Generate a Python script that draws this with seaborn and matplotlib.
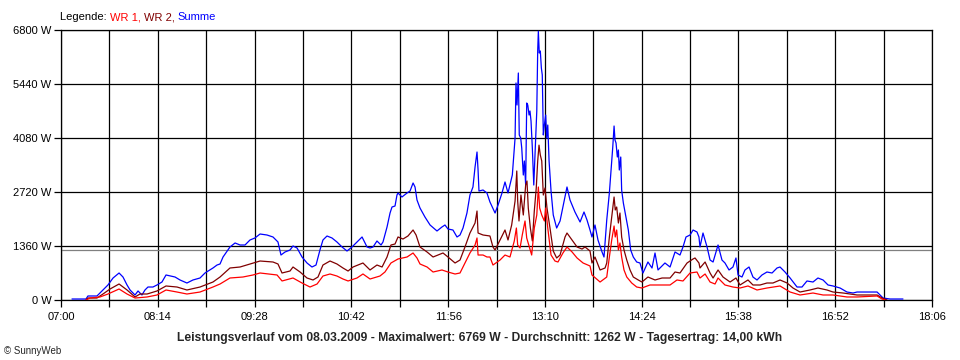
import matplotlib
matplotlib.use("Agg")
import matplotlib.pyplot as plt
import pandas as pd
import seaborn as sns
from matplotlib.ticker import FixedLocator, NullFormatter

# ---- data: time in minutes after 07:00, power in W ----
summe_t = [8.4, 19.1, 20.6, 27.5, 32.1, 35.9, 39.8, 44.4, 47.4, 50.5, 52.8, 56.6, 58.9, 61.9, 64.2, 66.5, 70.3, 73.4, 77.2, 80.3,
           87.2, 91.0, 96.3, 100.9, 106.3, 110.1, 116.2, 119.3, 121.6, 123.9, 129.2, 133.1, 136.9, 140.7, 144.5, 148.3, 152.2, 157.5, 162.1, 165.9,
           168.2, 171.3, 175.1, 177.4, 180.5, 184.3, 188.1, 191.9, 195.0, 198.0, 200.3, 203.4, 207.2, 211.0, 214.9, 218.7, 222.5, 226.3, 230.2, 234.0,
           236.3, 238.6, 241.6, 244.7, 246.2, 249.3, 251.6, 253.1, 255.4, 256.9, 257.7, 260.7, 264.6, 266.9, 269.2, 270.7, 272.2, 274.5, 278.3, 282.2,
           287.5, 291.3, 293.6, 295.9, 299.7, 302.8, 305.1, 307.4, 310.4, 312.7, 315.0, 316.6, 318.1, 318.9, 319.6, 322.7, 325.7, 328.0, 331.9, 334.2,
           337.2, 339.5, 341.8, 345.1, 347.2, 347.9, 348.7, 349.7, 350.4, 351.5, 352.3, 353.5, 354.3, 355.3, 356.1, 356.9, 357.9, 358.6, 359.4, 360.4,
           361.5, 362.4, 363.8, 364.5, 365.0, 365.7, 366.5, 367.3, 368.0, 368.8, 369.6, 370.6, 371.4, 372.2, 373.2, 374.7, 376.4, 379.0, 381.6, 385.4,
           386.9, 389.2, 393.0, 396.9, 399.9, 402.2, 404.5, 406.0, 408.3, 410.6, 413.7, 415.2, 417.3, 419.3, 420.6, 421.9, 422.9, 423.6, 424.4, 425.4,
           426.2, 426.9, 428.0, 428.7, 430.0, 432.0, 433.8, 435.6, 437.6, 440.2, 442.7, 445.0, 448.8, 451.9, 454.2, 456.5, 461.8, 465.7, 469.5, 473.3,
           475.6, 477.9, 481.0, 483.3, 486.3, 487.8, 488.6, 490.9, 494.0, 496.3, 498.6, 502.4, 505.4, 507.7, 510.8, 513.8, 516.1, 517.7, 520.7, 523.0,
           526.1, 529.1, 532.2, 536.0, 539.8, 543.7, 547.5, 549.8, 553.6, 557.5, 562.8, 566.6, 570.4, 575.0, 578.8, 582.7, 586.5, 590.3, 595.7, 601.0,
           605.6, 608.7, 624.0, 626.3, 628.6, 633.9, 643.8]
summe_w = [25, 25, 101, 101, 252, 378, 554, 680, 579, 378, 252, 126, 227, 126, 252, 327, 327, 378, 453, 630,
           579, 504, 428, 504, 554, 680, 806, 881, 907, 1083, 1335, 1436, 1385, 1385, 1511, 1562, 1662, 1637, 1587, 1461,
           1133, 1209, 1259, 1360, 1310, 1083, 932, 831, 881, 1259, 1511, 1612, 1562, 1461, 1335, 1234, 1335, 1461, 1587, 1335,
           1310, 1335, 1486, 1385, 1461, 1839, 2191, 2342, 2367, 2644, 2695, 2594, 2695, 2745, 2947, 2846, 2519, 2317, 2090, 1889,
           1738, 1839, 1889, 1788, 1763, 1587, 1637, 1813, 2191, 2644, 2846, 3350, 3727, 3274, 2745, 2770, 2695, 2468, 2191, 2393,
           2695, 2972, 2695, 3148, 4080, 5465, 4911, 5717, 4156, 4080, 3828, 3148, 3501, 2896, 4961, 4911, 4659, 4760, 4508, 3828,
           2896, 3652, 4760, 6271, 6769, 6221, 6271, 5843, 5667, 4156, 4407, 4659, 4080, 4407, 3501, 2745, 2141, 1813, 1990, 2594,
           2846, 2519, 2216, 1964, 2216, 2015, 1763, 1587, 1889, 1511, 1209, 1083, 2015, 2695, 3274, 3853, 4382, 4030, 3954, 3601,
           3778, 3274, 3601, 2770, 2443, 2090, 1763, 1259, 1083, 957, 932, 680, 957, 806, 1184, 756, 932, 831, 1209, 1133,
           1335, 1587, 1637, 1763, 1713, 1587, 1335, 1687, 1335, 1007, 957, 1385, 1007, 932, 756, 831, 1058, 630, 579, 756,
           831, 579, 504, 630, 705, 680, 806, 831, 705, 554, 327, 327, 479, 453, 554, 504, 378, 353, 302, 201,
           176, 201, 201, 126, 50, 25, 25]

wr2_t = [19.1, 20.6, 27.5, 32.1, 37.5, 44.4, 50.5, 56.6, 60.4, 65.8, 73.4, 80.3, 88.7, 96.3, 106.3, 116.2, 121.6, 129.2, 136.9, 144.5,
         152.2, 162.1, 165.9, 169.0, 175.1, 177.4, 182.8, 188.1, 192.7, 196.5, 200.3, 205.7, 211.0, 215.6, 219.5, 223.3, 230.9, 236.3, 241.6, 245.5,
         249.3, 252.3, 255.4, 257.7, 261.5, 265.3, 269.2, 271.5, 274.5, 279.9, 284.5, 288.3, 292.1, 295.9, 301.3, 305.1, 308.9, 312.7, 316.6, 318.1,
         318.9, 322.7, 328.0, 330.3, 331.9, 335.7, 339.5, 341.8, 344.6, 347.2, 348.5, 349.2, 350.2, 351.7, 353.5, 355.3, 356.3, 357.3, 358.9, 360.4,
         361.9, 363.4, 364.5, 365.5, 366.5, 367.6, 368.8, 370.1, 371.6, 373.9, 376.4, 379.0, 381.6, 385.4, 386.9, 390.8, 394.6, 398.4, 400.7, 404.5,
         406.0, 408.3, 412.2, 416.0, 417.3, 419.3, 421.1, 422.9, 423.8, 424.9, 426.2, 427.4, 428.7, 430.5, 432.6, 435.1, 437.6, 441.4, 444.2, 448.8,
         454.2, 459.6, 465.7, 469.5, 473.3, 478.7, 483.3, 484.8, 487.8, 488.6, 492.5, 496.3, 498.6, 502.4, 506.2, 511.6, 516.1, 519.2, 525.3, 529.1,
         534.5, 539.8, 544.4, 549.8, 555.2, 559.7, 565.1, 572.7, 578.8, 585.7, 590.3, 598.0, 608.7, 624.0, 627.8, 631.6]
wr2_w = [0, 50, 50, 151, 277, 403, 252, 76, 151, 151, 227, 353, 327, 252, 327, 453, 579, 806, 831, 907,
         982, 957, 907, 680, 730, 831, 705, 554, 504, 579, 881, 982, 907, 806, 730, 831, 932, 756, 881, 831,
         1083, 1385, 1410, 1587, 1536, 1612, 1763, 1637, 1335, 1209, 1083, 1133, 1184, 1083, 932, 1007, 1335, 1687, 1939, 2241,
         1687, 1637, 1612, 1335, 1259, 1511, 1763, 1511, 1889, 2493, 3249, 2493, 1990, 2644, 2141, 2896, 2997, 2317, 1813, 1486,
         2241, 2821, 3501, 3900, 3652, 3501, 2644, 2821, 2317, 1813, 1234, 1058, 1133, 1587, 1687, 1511, 1335, 1284, 1335, 1234,
         932, 1083, 756, 806, 932, 1587, 2090, 2594, 2267, 2342, 1939, 2191, 1587, 1259, 1007, 756, 579, 504, 453, 579,
         504, 554, 554, 705, 680, 932, 1033, 1058, 932, 806, 957, 680, 554, 756, 579, 453, 554, 378, 504, 378,
         378, 428, 428, 504, 428, 302, 201, 252, 302, 252, 201, 176, 126, 126, 50, 0]

wr1_t = [19.1, 22.2, 29.8, 35.9, 44.4, 50.5, 56.6, 65.8, 73.4, 80.3, 88.7, 96.3, 106.3, 116.2, 121.6, 129.2, 139.1, 146.8, 152.2, 165.2,
         169.0, 177.4, 184.3, 190.4, 195.8, 200.3, 205.7, 211.0, 215.6, 219.5, 226.3, 230.9, 236.3, 243.9, 247.7, 252.3, 257.7, 264.6, 269.2, 272.2,
         274.5, 279.9, 284.5, 291.3, 295.9, 301.3, 305.1, 308.9, 312.7, 316.6, 318.1, 318.9, 322.7, 325.7, 328.0, 330.3, 335.7, 339.5, 343.3, 346.6,
         348.2, 349.2, 351.0, 352.7, 354.8, 356.1, 357.9, 359.9, 361.9, 363.8, 365.0, 366.0, 367.6, 369.6, 370.6, 372.2, 374.7, 377.7, 380.0, 383.8,
         386.9, 390.8, 394.6, 399.2, 404.5, 406.0, 412.2, 417.3, 419.3, 421.1, 422.9, 423.8, 424.9, 426.2, 427.4, 428.7, 430.5, 432.6, 436.4, 440.2,
         444.2, 450.3, 458.0, 465.7, 471.0, 475.6, 481.0, 486.3, 488.6, 492.5, 496.3, 500.1, 502.4, 507.7, 513.8, 519.2, 525.3, 532.2, 539.8, 549.8,
         557.5, 565.1, 575.0, 582.7, 590.3, 601.0, 608.7, 624.0, 627.8, 630.1]
wr1_w = [0, 50, 76, 151, 277, 151, 50, 76, 126, 252, 201, 151, 201, 327, 403, 554, 579, 630, 680, 630,
         479, 554, 428, 327, 403, 604, 655, 604, 529, 479, 554, 655, 529, 604, 705, 932, 1033, 1083, 1184, 1058,
         907, 831, 705, 756, 705, 655, 680, 932, 1184, 1385, 1562, 1133, 1133, 1083, 1083, 881, 1007, 1133, 1083, 1486,
         1813, 1385, 1310, 1637, 1990, 1562, 1360, 1133, 1813, 2141, 2846, 2317, 2141, 1990, 2317, 1813, 1133, 982, 957, 1184,
         1335, 1209, 1058, 932, 857, 630, 453, 579, 1083, 1511, 1864, 1587, 1763, 1259, 1436, 1083, 756, 579, 428, 327,
         302, 378, 378, 378, 504, 479, 680, 705, 554, 655, 453, 403, 554, 378, 327, 302, 353, 252, 302, 353,
         201, 126, 176, 126, 126, 76, 76, 101, 25, 0]

series_names = ["Summe", "WR 2", "WR 1"]          # drawing order (red on top)
series_colors = {"WR 1": "#FF0000", "WR 2": "#800000", "Summe": "#0000FF"}
y_ticks = [0, 1360, 2720, 4080, 5440, 6800]
x_labels = ["07:00", "08:14", "09:28", "10:42", "11:56", "13:10", "14:24", "15:38", "16:52", "18:06"]
average_w = 1262
title_text = ("Leistungsverlauf vom 08.03.2009 - Maximalwert: 6769 W - Durchschnitt: 1262 W - "
              "Tagesertrag: 14,00 kWh")
legend_parts = [("Legende: ", "black"), ("WR 1, ", "#FF0000"), ("WR 2, ", "#800000"), ("Summe", "#0000FF")]
credit_text = "\u00a9 SunnyWeb"

# ---- build long table ----
frames = []
for name, t, w in [("WR 1", wr1_t, wr1_w), ("WR 2", wr2_t, wr2_w), ("Summe", summe_t, summe_w)]:
    assert len(t) == len(w), name
    frames.append(pd.DataFrame({"minute": [420 + v for v in t], "power": w, "series": name}))
df = pd.concat(frames, ignore_index=True)

sns.set_theme(style="white")
plt.rcParams["font.family"] = ["Liberation Sans", "DejaVu Sans"]

fig = plt.figure(figsize=(9.6, 3.6), dpi=100)
fig.patch.set_facecolor("white")
ax = fig.add_axes([61 / 960, 60 / 360, 871 / 960, 270 / 360])
ax.set_facecolor("white")

major_x = [int(s[:2]) * 60 + int(s[3:]) for s in x_labels]
minor_x = [(a + b) / 2 for a, b in zip(major_x[:-1], major_x[1:])]

ax.set_xlim(major_x[0], major_x[-1])
ax.set_ylim(y_ticks[0], y_ticks[-1])

# grid
for xv in major_x + minor_x:
    ax.axvline(xv, color="black", lw=0.9, zorder=1)
for yv in y_ticks:
    ax.axhline(yv, color="black", lw=0.9, zorder=1)
ax.axhline(average_w, color="#808080", lw=0.9, zorder=1)

for name in series_names:
    sub = df[df["series"] == name]
    sns.lineplot(data=sub, x="minute", y="power", ax=ax, color=series_colors[name],
                 lw=0.9, estimator=None, sort=True, legend=False, zorder=3)

ax.xaxis.set_major_locator(FixedLocator(major_x))
ax.xaxis.set_minor_locator(FixedLocator(minor_x))
ax.set_xticklabels(x_labels)
ax.xaxis.set_minor_formatter(NullFormatter())
ax.set_yticks(y_ticks)
ax.set_yticklabels([f"{v} W" for v in y_ticks])
ax.tick_params(axis="both", which="both", direction="out", length=5, width=0.9, color="black",
               labelsize=8, labelcolor="black", pad=2)
ax.tick_params(axis="x", which="both", bottom=True, pad=4)
ax.tick_params(axis="y", which="major", left=True)
ax.set_xlabel("")
ax.set_ylabel("")
for sp in ax.spines.values():
    sp.set_color("black")
    sp.set_linewidth(0.9)
    sp.set_visible(True)

# legend line at top
renderer = fig.canvas.get_renderer()
x_px = 60
for txt, col in legend_parts:
    t = fig.text(x_px / 960, 1 - 17 / 360, txt, color=col, fontsize=8, ha="left", va="center")
    bb = t.get_window_extent(renderer=renderer)
    x_px += bb.width

fig.text(480 / 960, 1 - 338 / 360, title_text, fontsize=8.7, fontweight="bold", ha="center", va="center")
fig.text(4 / 960, 1 - 351 / 360, credit_text, fontsize=7, ha="left", va="center")

fig.savefig("out.png", dpi=100, facecolor="white")
